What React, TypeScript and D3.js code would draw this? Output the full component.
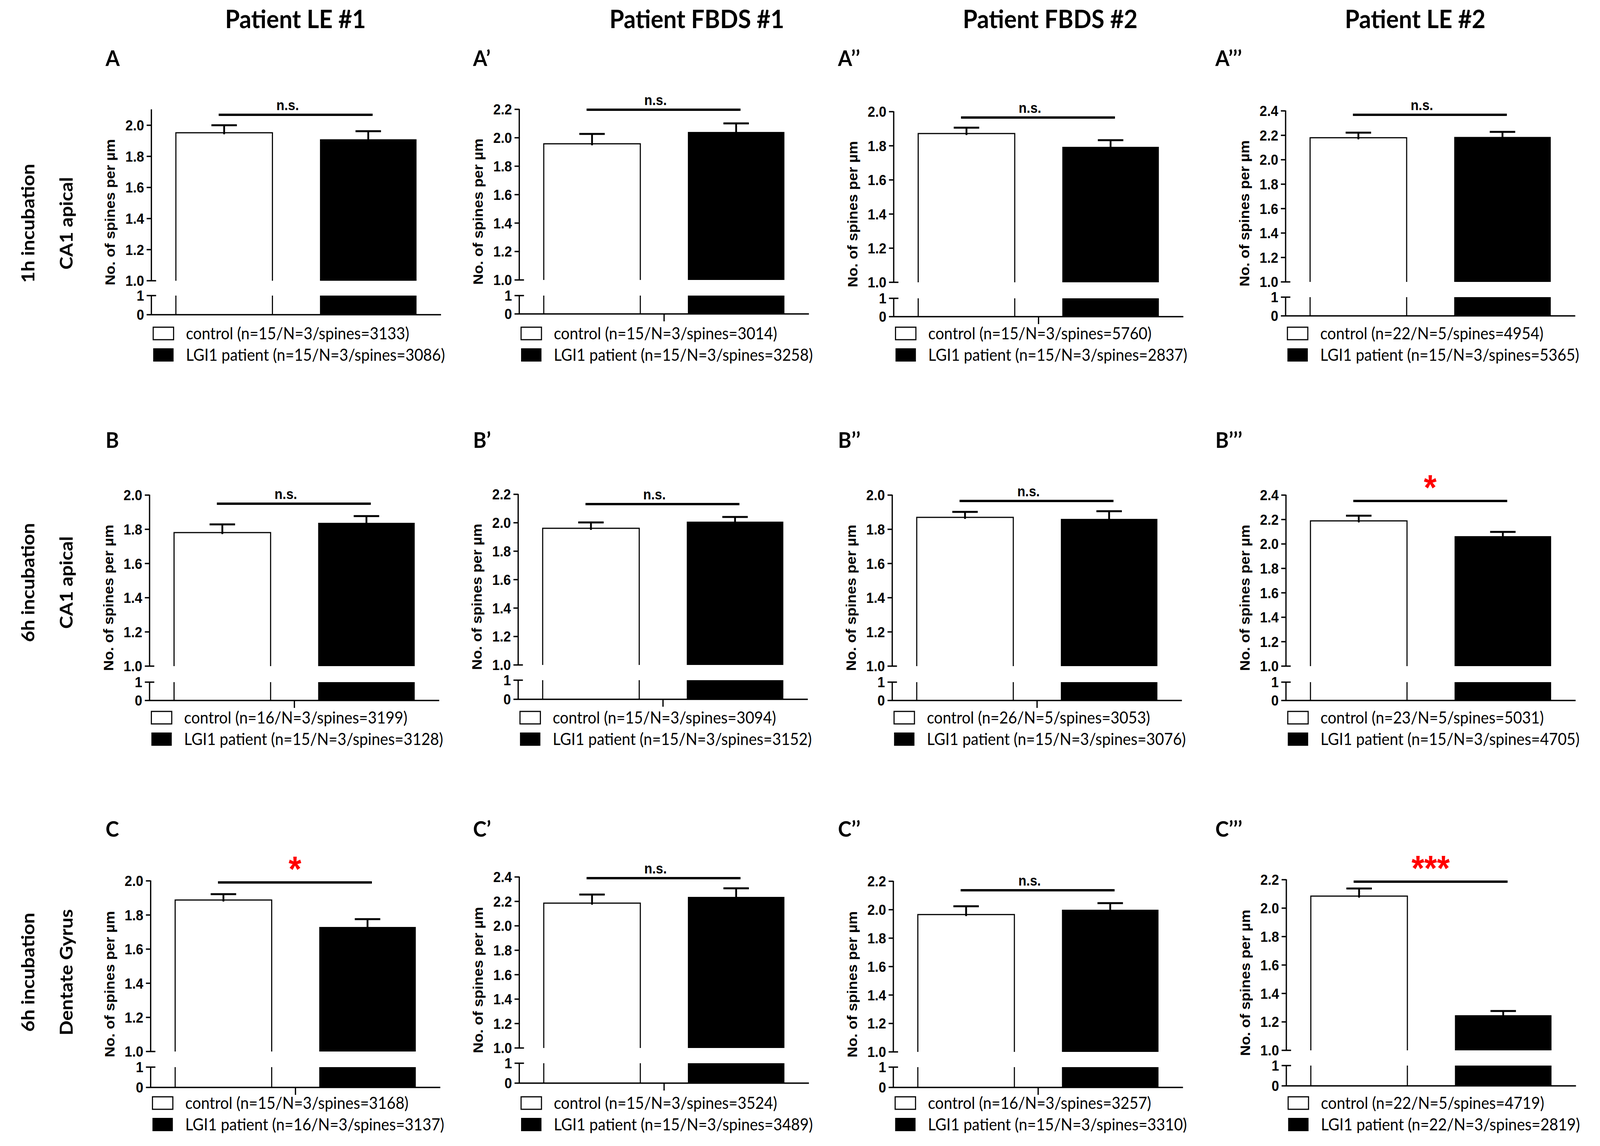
import React, { useEffect } from 'react';
import * as d3 from 'd3';

// ---- data ----
const columnTitles = ['Patient LE #1', 'Patient FBDS #1', 'Patient FBDS #2', 'Patient LE #2'];
const rowLabels = [
  ['1h incubation', 'CA1 apical'],
  ['6h incubation', 'CA1 apical'],
  ['6h incubation', 'Dentate Gyrus'],
];
const panelNames = ['A', 'A’', 'A’’', 'A’’’', 'B', 'B’', 'B’’', 'B’’’', 'C', 'C’', 'C’’', 'C’’’'];
const groups = ['control', 'patient'];

const axisMax = [2.1, 2.2, 2.0, 2.4, 2.0, 2.2, 2.0, 2.4, 2.0, 2.4, 2.2, 2.2];
const tickMax = [2.0, 2.2, 2.0, 2.4, 2.0, 2.2, 2.0, 2.4, 2.0, 2.4, 2.2, 2.2];
const tickStep = 0.2;

const controlMean = [1.952, 1.958, 1.872, 2.180, 1.781, 1.961, 1.870, 2.189, 1.888, 2.186, 1.966, 2.085];
const controlSem = [0.048, 0.069, 0.034, 0.042, 0.048, 0.041, 0.032, 0.042, 0.034, 0.070, 0.058, 0.053];
const patientMean = [1.910, 2.041, 1.794, 2.187, 1.838, 2.008, 1.861, 2.064, 1.730, 2.237, 2.000, 1.247];
const patientSem = [0.052, 0.060, 0.039, 0.041, 0.039, 0.033, 0.045, 0.035, 0.046, 0.070, 0.046, 0.030];

const significance = ['n.s.', 'n.s.', 'n.s.', 'n.s.', 'n.s.', 'n.s.', 'n.s.', '*', '*', 'n.s.', 'n.s.', '***'];

const controlLegend = [
  'control (n=15/N=3/spines=3133)',
  'control (n=15/N=3/spines=3014)',
  'control (n=15/N=3/spines=5760)',
  'control (n=22/N=5/spines=4954)',
  'control (n=16/N=3/spines=3199)',
  'control (n=15/N=3/spines=3094)',
  'control (n=26/N=5/spines=3053)',
  'control (n=23/N=5/spines=5031)',
  'control (n=15/N=3/spines=3168)',
  'control (n=15/N=3/spines=3524)',
  'control (n=16/N=3/spines=3257)',
  'control (n=22/N=5/spines=4719)',
];
const patientLegend = [
  'LGI1 patient (n=15/N=3/spines=3086)',
  'LGI1 patient (n=15/N=3/spines=3258)',
  'LGI1 patient (n=15/N=3/spines=2837)',
  'LGI1 patient (n=15/N=3/spines=5365)',
  'LGI1 patient (n=15/N=3/spines=3128)',
  'LGI1 patient (n=15/N=3/spines=3152)',
  'LGI1 patient (n=15/N=3/spines=3076)',
  'LGI1 patient (n=15/N=3/spines=4705)',
  'LGI1 patient (n=16/N=3/spines=3137)',
  'LGI1  patient (n=15/N=3/spines=3489)',
  'LGI1  patient (n=15/N=3/spines=3310)',
  'LGI1 patient (n=22/N=3/spines=2819)',
];

// ---- layout (pixels in a 4397 x 2935 frame) ----
const W = 4397;
const H = 2935;
const panelX = [416, 1427, 2456, 3533, 411, 1424, 2452, 3534, 414, 1427, 2455, 3535];
const topY = [281, 280, 286, 284, 1268, 1266, 1268, 1268, 2256, 2246, 2257, 2253];
const breakY = [719, 717, 723, 722, 1706, 1703, 1706, 1706, 2693, 2684, 2694, 2690];
const low1Y = [757, 757, 764, 761, 1747, 1742, 1747, 1747, 2733, 2723, 2733, 2729];
const low0Y = [806, 804, 811, 809, 1794, 1791, 1794, 1794, 2785, 2774, 2785, 2781];
const sigY = [294, 281, 301, 294, 1290, 1291, 1283, 1283, 2260, 2249, 2280, 2258];
const midTick = [false, true, true, false, true, true, true, false, true, true, true, false];
const legendY = [838, 1822, 2809];
const titleX = [812, 1915, 2886, 3889];
const labelX = [290, 1300, 2303, 3340];
const labelY = [169, 1147, 2143];
const rowCenterY = [572, 1492, 2490];

const HEAD_FONT = "Lato, 'Open Sans', sans-serif";
const AXIS_FONT = "'Liberation Sans', Arial, sans-serif";

function Panel({ i }: { i: number }) {
  const x0 = panelX[i];
  const row = Math.floor(i / 4);
  const x = d3.scaleBand<string>().domain(groups).range([x0, x0 + 796]).paddingInner(0.33).paddingOuter(0.17);
  const bw = x.bandwidth();
  const yUp = d3.scaleLinear().domain([1, axisMax[i]]).range([breakY[i], topY[i]]);
  const yLow = d3.scaleLinear().domain([0, 1]).range([low0Y[i], low1Y[i]]);
  const ticks = d3.range(1, tickMax[i] + 1e-6, tickStep);
  const means = [controlMean[i], patientMean[i]];
  const sems = [controlSem[i], patientSem[i]];
  const xEnd = x0 + 796;

  const cx = (g: string) => (x(g) as number) + bw / 2;
  const sigX1 = cx('control') - 15;
  const sigX2 = cx('patient') + 12;
  const sig = significance[i];
  const isStar = sig !== 'n.s.';
  const midX = (x('control') as number) + bw + ((x('patient') as number) - (x('control') as number) - bw) / 2;

  const ly = legendY[row];
  const lx = x0 + 5;

  return (
    <g>
      {/* bars, upper segment */}
      {groups.map((g, k) => {
        const left = x(g) as number;
        const top = yUp(means[k]);
        if (k === 0) {
          return (
            <path key={g} d={`M${left},${breakY[i]}V${top}H${left + bw}V${breakY[i]}`}
              fill="#fff" stroke="#000" strokeWidth={3} />
          );
        }
        return <rect key={g} x={left} y={top} width={bw} height={breakY[i] - top} fill="#000" />;
      })}
      {/* bars, lower segment */}
      {groups.map((g, k) => {
        const left = x(g) as number;
        if (k === 0) {
          return (
            <g key={g} stroke="#000" strokeWidth={3}>
              <line x1={left} x2={left} y1={yLow(1)} y2={yLow(0)} />
              <line x1={left + bw} x2={left + bw} y1={yLow(1)} y2={yLow(0)} />
            </g>
          );
        }
        return <rect key={g} x={left} y={yLow(1)} width={bw} height={yLow(0) - yLow(1)} fill="#000" />;
      })}
      {/* error bars */}
      {groups.map((g, k) => {
        const c = cx(g);
        const yT = yUp(means[k] + sems[k]);
        return (
          <g key={g} stroke="#000" strokeWidth={5}>
            <line x1={c} x2={c} y1={yUp(means[k]) + 4} y2={yT} />
            <line x1={c - 35} x2={c + 35} y1={yT} y2={yT} />
          </g>
        );
      })}

      {/* broken y axis + x axis */}
      <g stroke="#000" strokeWidth={3.5}>
        <line x1={x0} x2={x0} y1={yUp(1)} y2={yUp(axisMax[i]) - 1} />
        {ticks.map(t => (
          <line key={t} x1={x0 - 13} x2={Math.abs(t - 1) < 1e-6 ? x0 + 13 : x0} y1={yUp(t)} y2={yUp(t)} />
        ))}
        <line x1={x0} x2={x0} y1={yLow(1)} y2={yLow(0)} />
        <line x1={x0 - 13} x2={x0 + 13} y1={yLow(1)} y2={yLow(1)} />
        <line x1={x0 - 13} x2={xEnd} y1={yLow(0)} y2={yLow(0)} />
        {midTick[i] && <line x1={midX} x2={midX} y1={yLow(0)} y2={yLow(0) + 19} />}
      </g>
      <g fontFamily={AXIS_FONT} fontWeight="bold" fontSize={37} textAnchor="end">
        {ticks.map(t => (
          <text key={t} x={x0 - 20} y={yUp(t)} dy="0.36em">{t.toFixed(1)}</text>
        ))}
        {[0, 1].map(t => (
          <text key={'l' + t} x={x0 - 20} y={yLow(t)} dy="0.36em">{t}</text>
        ))}
      </g>
      <text transform={`translate(${x0 - 100},${(topY[i] + low0Y[i]) / 2}) rotate(-90)`}
        fontFamily={AXIS_FONT} fontWeight="bold" fontSize={38} textAnchor="middle">
        No. of spines per µm
      </text>

      {/* significance */}
      <line x1={sigX1} x2={sigX2} y1={sigY[i]} y2={sigY[i]} stroke="#000" strokeWidth={6} />
      {isStar ? (
        <text x={(sigX1 + sigX2) / 2} y={sigY[i] - 3} fill="#ff0000" fontFamily={AXIS_FONT}
          fontWeight="bold" fontSize={90} textAnchor="middle">{sig}</text>
      ) : (
        <text x={(sigX1 + sigX2) / 2 - 22} y={sigY[i] - 12} fontFamily={AXIS_FONT}
          fontWeight="bold" fontSize={36} textAnchor="middle">{sig}</text>
      )}

      {/* legend */}
      <rect x={lx} y={ly} width={56} height={32} fill="#fff" stroke="#000" strokeWidth={3} />
      <rect x={lx} y={ly + 54} width={56} height={34} fill="#000" />
      <g fontFamily={HEAD_FONT} fontSize={42} style={{ whiteSpace: 'pre' }}>
        <text x={lx + 90} y={ly + 31}>{controlLegend[i]}</text>
        <text x={lx + 90} y={ly + 86}>{patientLegend[i]}</text>
      </g>

      {/* panel letter */}
      <text x={labelX[i % 4]} y={labelY[row]} fontFamily={HEAD_FONT} fontWeight="bold" fontSize={56}>
        {panelNames[i]}
      </text>
    </g>
  );
}

export default function App() {
  useEffect(() => {
    document.body.style.margin = '0';
    document.body.style.overflow = 'hidden';
    document.documentElement.style.overflow = 'hidden';
  }, []);

  return (
    <svg viewBox={`0 0 ${W} ${H}`} preserveAspectRatio="none"
      style={{ position: 'fixed', left: 0, top: 0, width: '100vw', height: '100vh', display: 'block', background: '#fff' }}>
      <rect width={W} height={H} fill="#fff" />
      {columnTitles.map((t, c) => (
        <text key={t} x={titleX[c]} y={72} fontFamily={HEAD_FONT} fontWeight="bold" fontSize={65}
          textAnchor="middle">{t}</text>
      ))}
      {rowLabels.map((lbl, r) => (
        <g key={r} fontFamily={HEAD_FONT} fontWeight="bold" fontSize={50} textAnchor="middle">
          <text transform={`translate(95,${rowCenterY[r]}) rotate(-90)`}>{lbl[0]}</text>
          <text transform={`translate(200,${rowCenterY[r]}) rotate(-90)`}>{lbl[1]}</text>
        </g>
      ))}
      {panelNames.map((_, i) => <Panel key={i} i={i} />)}
    </svg>
  );
}
